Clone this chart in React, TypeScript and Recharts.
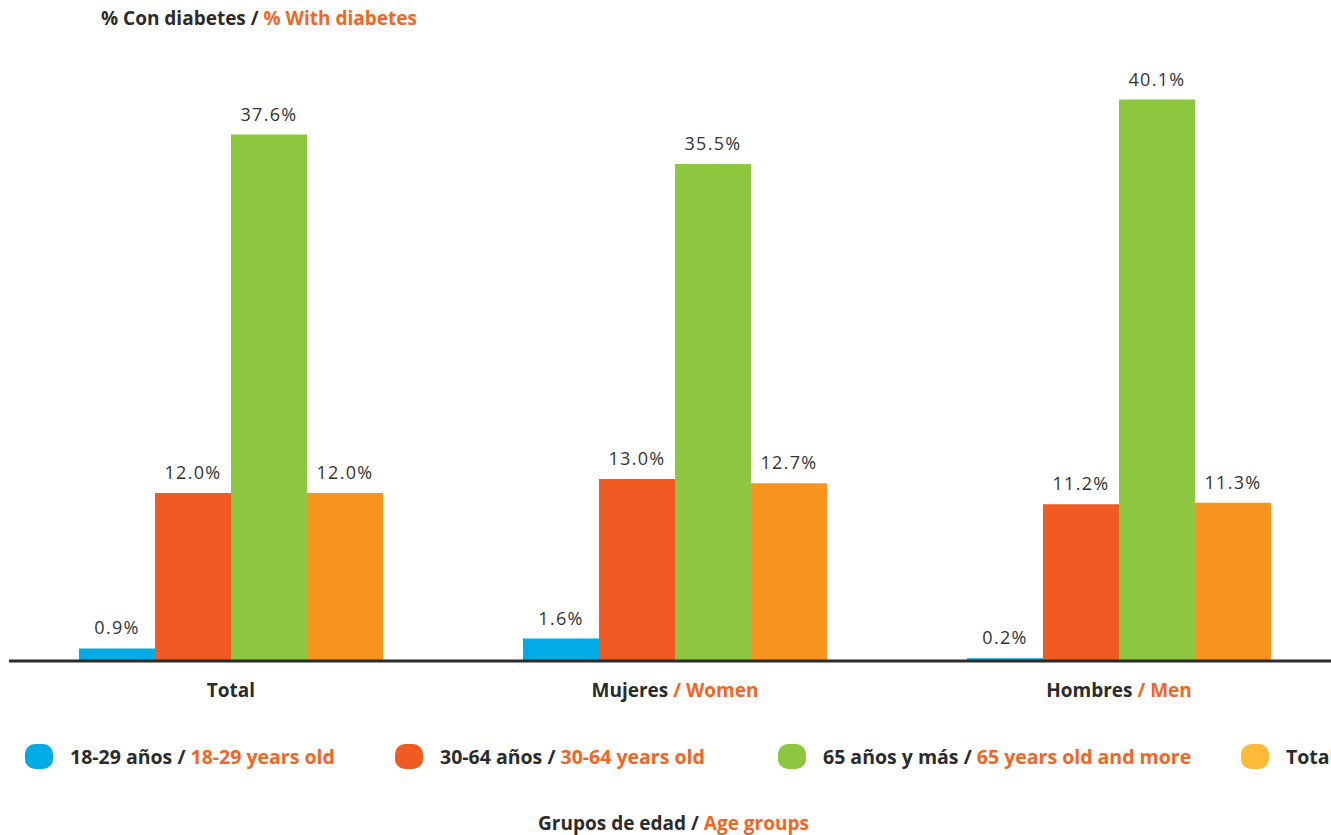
import { Bar, BarChart, LabelList, XAxis, YAxis } from "recharts";

const groupsEs = ["Total", "Mujeres", "Hombres"];
const groupsEn = ["", "Women", "Men"];

const ages18to29 = [0.9, 1.6, 0.2];
const ages30to64 = [12.0, 13.0, 11.2];
const ages65plus = [37.6, 35.5, 40.1];
const agesTotal = [12.0, 12.7, 11.3];

const seriesKeys = ["a18", "a30", "a65", "tot"];
const seriesColors = ["#00ABE6", "#F15A22", "#8DC63F", "#F7941D"];
const legendEs = ["18-29 años", "30-64 años", "65 años y más", "Total"];
const legendEn = ["18-29 years old", "30-64 years old", "65 years old and more", "Total"];
const legendColors = ["#00ABE6", "#F15A22", "#8DC63F", "#FDBA38"];

// legend item left edges (layout only)
const legendLeft = [25, 395, 778, 1241];

const data = groupsEs.map((g, i) => ({
  name: g,
  a18: ages18to29[i],
  a30: ages30to64[i],
  a65: ages65plus[i],
  tot: agesTotal[i],
}));

const DARK = "#2b2b2b";
const ORANGE = "#F26522";
const FONT = "'Open Sans', sans-serif";

function GroupTick({ x, y, payload, index }: any) {
  const en = groupsEn[index ?? payload.index] ?? "";
  return (
    <text
      x={x}
      y={y + 28}
      textAnchor="middle"
      fontFamily={FONT}
      fontSize={19}
      fontWeight={700}
      fill={DARK}
    >
      {payload.value}
      {en && <tspan fill={ORANGE}>{" / " + en}</tspan>}
    </text>
  );
}

export default function App() {
  return (
    <div
      style={{
        position: "absolute",
        left: 0,
        top: 0,
        width: 1331,
        height: 835,
        overflow: "hidden",
        background: "#fff",
        fontFamily: FONT,
      }}
    >
      <div
        style={{
          position: "absolute",
          left: 101,
          top: 5,
          fontSize: 19,
          fontWeight: 700,
          color: DARK,
          whiteSpace: "nowrap",
        }}
      >
        % Con diabetes / <span style={{ color: ORANGE }}>% With diabetes</span>
      </div>

      <BarChart
        width={1359}
        height={835}
        data={data}
        margin={{ top: 31, right: 18, left: 9, bottom: 134 }}
        barCategoryGap={70}
        barGap={0}
      >
        <YAxis hide domain={[0, 45]} />
        <XAxis
          dataKey="name"
          height={40}
          tickLine={false}
          axisLine={{ stroke: DARK, strokeWidth: 3 }}
          tick={<GroupTick />}
          interval={0}
        />
        {seriesKeys.map((k, i) => (
          <Bar key={k} dataKey={k} fill={seriesColors[i]} isAnimationActive={false}>
            <LabelList
              dataKey={k}
              position="top"
              offset={14}
              formatter={(v: any) => Number(v).toFixed(1) + "%"}
              style={{
                fontFamily: FONT,
                fontSize: 18,
                fill: "#333",
                letterSpacing: 1.3,
              }}
            />
          </Bar>
        ))}
      </BarChart>

      {legendEs.map((es, i) => (
        <div
          key={es}
          style={{
            position: "absolute",
            left: legendLeft[i],
            top: 743,
            display: "flex",
            alignItems: "center",
            whiteSpace: "nowrap",
            fontSize: 19.5,
            fontWeight: 700,
            color: DARK,
          }}
        >
          <span
            style={{
              display: "inline-block",
              width: 28,
              height: 25,
              borderRadius: 10,
              background: legendColors[i],
              marginRight: 17,
            }}
          />
          <span>
            {es}
            {i < 3 && <span> / </span>}
            {i < 3 && <span style={{ color: ORANGE }}>{legendEn[i]}</span>}
          </span>
        </div>
      ))}

      <div
        style={{
          position: "absolute",
          left: 0,
          width: 1347,
          top: 810,
          textAlign: "center",
          fontSize: 19,
          fontWeight: 700,
          color: DARK,
        }}
      >
        Grupos de edad / <span style={{ color: ORANGE }}>Age groups</span>
      </div>
    </div>
  );
}
